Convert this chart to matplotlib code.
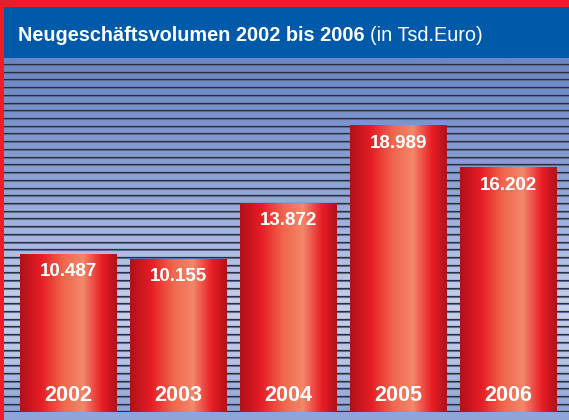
import numpy as np
import matplotlib.pyplot as plt
from matplotlib.colors import LinearSegmentedColormap

years = ["2002", "2003", "2004", "2005", "2006"]
values = [10.487, 10.155, 13.872, 18.989, 16.202]
value_labels = ["10.487", "10.155", "13.872", "18.989", "16.202"]

W, H = 569, 420
fig = plt.figure(figsize=(W / 100, H / 100), dpi=100)
fig.patch.set_facecolor('#ee1c25')

def px_axes(x0, y0, x1, y1):
    # pixel box (top-left origin) -> figure axes
    return fig.add_axes([x0 / W, 1 - y1 / H, (x1 - x0) / W, (y1 - y0) / H])

# header
hdr = px_axes(4, 7, W, 58)
hdr.set_facecolor('#0059a9')
hdr.set_xticks([]); hdr.set_yticks([])
for s in hdr.spines.values():
    s.set_visible(False)
t = hdr.text(0.025, 0.45, "Neugeschäftsvolumen 2002 bis 2006", color='white',
             fontsize=14.3, fontweight='bold', va='center', ha='left',
             family='Liberation Sans', transform=hdr.transAxes)
fig.canvas.draw()
bb = t.get_window_extent().transformed(hdr.transAxes.inverted())
hdr.text(bb.x1 + 0.009, 0.45, "(in Tsd.Euro)", color='white', fontsize=14.3,
         va='center', ha='left', family='Liberation Sans', transform=hdr.transAxes)

# bottom band
band = px_axes(4, 412, W, H)
band.set_facecolor('#8fa4d8')
band.set_xticks([]); band.set_yticks([])
for s in band.spines.values():
    s.set_visible(False)

# striped background with vertical gradient
bg = px_axes(4, 58, W, 412)
bg.set_xlim(0, 1)
bg.set_ylim(412, 58)
grad_cmap = LinearSegmentedColormap.from_list(
    'bgc', [(0.0, '#6a86c5'), (0.35, '#8ea3d6'), (0.7, '#c6d0eb'),
            (0.85, '#b8c5e6'), (1.0, '#8da2d6')])
g = np.linspace(0, 1, 256).reshape(-1, 1)
bg.imshow(g, aspect='auto', cmap=grad_cmap, extent=[0, 1, 412, 58], zorder=0)
for y in np.arange(64, 412, 7.72):
    bg.axhline(y + 1.0, color='#6675a0', lw=0.8, zorder=1)
    bg.axhline(y, color='#2a2f3c', lw=0.9, zorder=2)
bg.set_axis_off()

# bars
ax = px_axes(4, 58, W, 412)
ax.patch.set_alpha(0)
x = np.arange(len(years))
bars = ax.bar(x, values, width=0.88, color='#e8202a', zorder=2)
bar_cmap = LinearSegmentedColormap.from_list(
    'barc', [(0.0, '#b0111a'), (0.22, '#e81d25'), (0.45, '#f0674d'),
             (0.65, '#f3876a'), (0.85, '#e81d25'), (1.0, '#b0111a')])
hg = np.linspace(0, 1, 256).reshape(1, -1)
for b, lab, yr in zip(bars, value_labels, years):
    x0, w, h = b.get_x(), b.get_width(), b.get_height()
    ax.imshow(hg, aspect='auto', cmap=bar_cmap, extent=[x0, x0 + w, 0, h], zorder=3)
    ax.text(x0 + w / 2, h - 1.15, lab, color='white', fontsize=13.5, fontweight='bold',
            ha='center', va='center', family='Liberation Sans', zorder=4)
    ax.text(x0 + w / 2, 1.1, yr, color='white', fontsize=15.5, fontweight='bold',
            ha='center', va='center', family='Liberation Sans', zorder=4)
ax.set_xlim(-0.586, 4.55)
ax.set_ylim(0, 23.5)
ax.set_axis_off()

fig.savefig('out.png', dpi=100, facecolor=fig.get_facecolor())
